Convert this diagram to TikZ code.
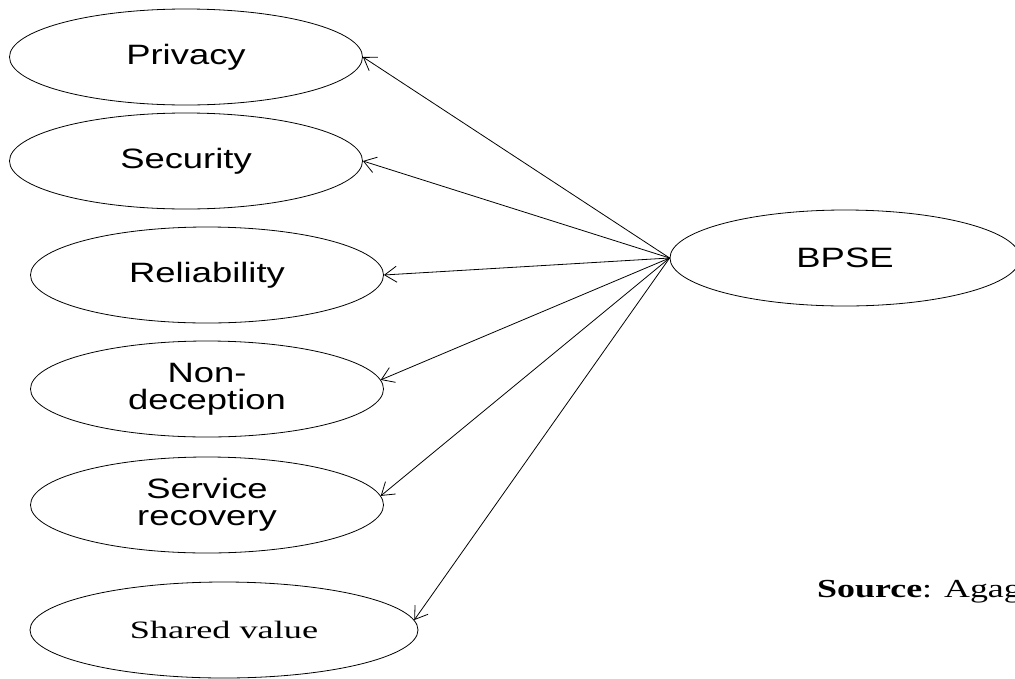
\documentclass[tikz,border=0pt]{standalone}
\usepackage{fontspec}
\usepackage{tikz}
\usetikzlibrary{positioning, shapes.geometric, arrows.meta}
\newfontfamily\labelfont[FakeStretch=1.3]{Liberation Sans}
\newfontfamily\serifwide[FakeStretch=1.45]{Liberation Serif}
\newfontfamily\sourcefont[FakeStretch=1.38]{Liberation Serif}

\begin{document}
\begin{tikzpicture}[x=1pt, y=-1pt,
    factor/.style={draw, ellipse, line width=0.8pt, inner sep=0pt,
        minimum width=353pt, minimum height=96pt, align=center,
        font=\labelfont\fontsize{28}{27}\selectfont},
    link/.style={line width=0.8pt, -{Straight Barb[length=12pt, width=16pt]}}]
    \useasboundingbox (0,0) rectangle (1015,678);

    \node[factor] (privacy) at (186,57) {Privacy};
    \node[factor] (security) at (186,161) {Security};
    \node[factor] (reliability) at (207,275) {Reliability};
    \node[factor] (non-deception) at (207,389) {Non-\\deception};
    \node[factor] (service-recovery) at (207,505) {Service\\recovery};
    \node[factor, minimum width=388pt, font=\serifwide\fontsize{25}{27}\selectfont] (shared-value) at (224,630) {Shared value};

    \node[factor, minimum width=350pt] (bpse) at (845,258) {BPSE};

    \node[anchor=base west, inner sep=0pt, font=\sourcefont\fontsize{26}{30}\selectfont] (source) at (817,597) {\textbf{Source}: Agag};

    \draw[link] (bpse.west) -- (privacy.east);
    \draw[link] (bpse.west) -- (security.east);
    \draw[link] (bpse.west) -- (reliability.east);
    \draw[link] (bpse.west) -- (non-deception.3);
    \draw[link] (bpse.west) -- (service-recovery.3);
    \draw[link] (bpse.west) -- (shared-value.3);
\end{tikzpicture}
\end{document}
